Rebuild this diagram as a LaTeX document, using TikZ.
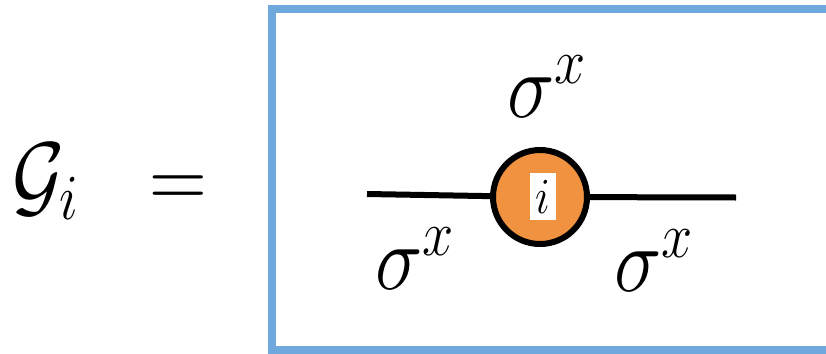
\documentclass[tikz,border=0pt]{standalone}
\usepackage{fix-cm}
\usepackage{graphicx}
\definecolor{boxblue}{RGB}{111,168,220}
\definecolor{nodeorange}{RGB}{240,146,64}
\tikzset{
  bigmath/.style={inner sep=0pt, font=\fontsize{80}{90}\selectfont},
  tensor/.style={circle, draw=black, line width=6pt, fill=nodeorange, minimum size=94pt, inner sep=0pt},
  leg/.style={line width=6pt, draw=black},
  idxbox/.style={fill=white, inner sep=0pt, minimum width=26pt, minimum height=47pt, font=\fontsize{44}{50}\selectfont}
}
\newcommand{\vstr}[1]{\scalebox{1}[1.15]{#1}}
\begin{document}
\begin{tikzpicture}[x=1pt,y=-1pt]
\useasboundingbox (0,0) rectangle (826,353);
% frame (right side cut off)
\draw[boxblue, line width=8pt] (840,9.5) -- (272,9.5) -- (272,349.5) -- (840,349.5);
% left side of equation
\node[bigmath, anchor=base west] (G) at (12,206) {\vstr{$\mathcal{G}_i$}};
\node[bigmath] (eq) at (178,192) {\vstr{$=$}};
% legs
\coordinate (L) at (367,194);
\coordinate (R) at (736,197.5);
\node[tensor] (c) at (540,197) {};
\draw[leg] (L) -- (c);
\draw[leg] (c) -- (R);
\node[idxbox] (i) at (543,196.5) {\vstr{$i$}};
% labels
\node[bigmath, anchor=base west] (top) at (507,117) {\vstr{$\sigma^x$}};
\node[bigmath, anchor=base west] (bl) at (375,289) {\vstr{$\sigma^x$}};
\node[bigmath, anchor=base west] (br) at (614,291) {\vstr{$\sigma^x$}};
\end{tikzpicture}
\end{document}
